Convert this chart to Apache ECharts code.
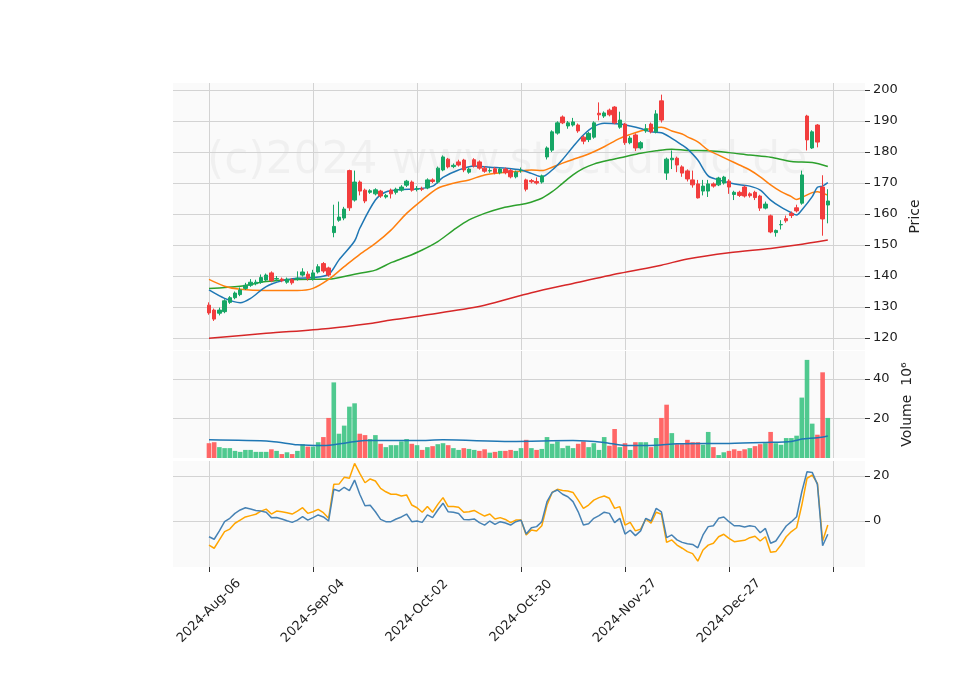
<!DOCTYPE html>
<html><head><meta charset="utf-8">
<script src="https://cdn.jsdelivr.net/npm/echarts@6/dist/echarts.min.js"></script>
<style>html,body{margin:0;padding:0;background:#fff}#c{width:960px;height:690px}</style>
</head><body><div id="c"></div>
<script>
const tickIdx = [0,20,40,60,80,100,120];
const tickLabels = ['2024-Aug-06','2024-Sep-04','2024-Oct-02','2024-Oct-30','2024-Nov-27','2024-Dec-27',''];
const opens = [130.6,129.0,128.0,128.5,131.5,133.0,134.0,136.0,137.0,137.5,138.0,138.7,141.0,139.0,139.0,138.0,138.8,139.0,140.3,140.6,
139.0,141.3,144.0,142.6,154.0,158.0,158.7,174.0,164.5,170.3,167.7,167.0,166.5,167.4,165.5,167.7,167.0,167.7,169.3,170.3,
168.0,168.1,168.4,171.0,170.3,174.2,177.7,175.3,176.8,177.4,173.5,177.5,176.8,174.8,173.9,174.6,173.3,174.5,174.0,172.0,
174.0,171.0,170.8,170.5,170.3,178.4,180.6,186.1,191.3,188.4,188.7,188.7,184.8,184.0,184.8,192.5,191.6,193.5,194.5,188.0,
189.0,183.0,185.5,181.3,186.8,189.0,186.5,196.5,173.2,177.5,178.0,175.2,173.9,171.0,169.7,167.4,167.4,169.7,169.4,170.0,
170.6,166.3,167.0,168.7,166.5,167.0,165.8,161.9,159.4,154.0,156.5,158.5,160.2,162.0,163.5,191.6,181.3,188.7,168.7,162.9];
const closes = [128.1,126.1,129.0,132.0,133.0,134.5,135.5,137.0,138.0,138.0,139.5,140.3,138.5,139.2,138.5,139.0,137.8,139.3,141.3,139.3,
141.0,143.0,141.6,140.3,156.0,159.0,161.6,162.0,170.3,167.4,164.2,167.5,167.8,165.8,166.0,166.5,168.0,168.7,170.6,167.7,
168.2,168.0,171.0,170.5,174.8,178.4,175.2,175.7,175.8,174.2,174.5,175.5,174.8,173.8,174.0,173.3,174.5,173.3,172.0,173.5,
174.1,168.0,170.4,170.0,172.3,181.3,186.5,189.4,189.4,189.4,189.7,186.8,183.5,186.0,189.4,192.0,192.6,192.0,189.4,190.3,
183.0,184.5,181.3,183.0,187.5,186.5,192.3,190.3,177.7,178.0,175.8,173.2,171.3,169.4,165.2,169.0,169.7,169.0,171.6,171.9,
168.7,167.0,166.0,165.8,165.9,165.3,161.9,163.2,154.2,154.7,156.6,157.8,159.5,161.0,172.6,183.9,186.5,183.2,158.4,164.2];
const highs = [131.5,129.5,129.8,132.5,133.5,135,136.3,137.8,139,138.8,140.5,140.8,141.5,140,139.5,139.5,139.3,141.5,142.5,141.5,
142,143.8,144.5,143,163,164,162.3,174.3,174,170.8,168.2,168,168.3,167.8,166.5,168.2,168.5,169.3,171,170.8,
169,168.8,171.5,171.5,175.3,178.9,178.1,176.3,177.5,177.8,175,178,177.3,175.5,174.8,175.2,175,175,174.5,174,
175,171.4,171.3,171.8,172.7,181.8,187,189.9,191.8,190,191,189.2,185.3,186.5,189.9,196,193.1,194,194.8,193,
189.4,185.2,186,183.5,189,189.5,193.5,198.5,178.2,180.5,178.5,175.7,174.4,174,171,171,171,170.2,172,172.3,
171.2,167.5,167.5,169.2,167,167.5,166.2,164,159.8,155,158,159.5,160.8,163,174,192,187,189,172.5,168];
const lows = [127.5,125.5,127.3,128,131,132.5,133.5,135.5,136.5,137,137.5,138.2,138,138.3,138,137.5,137.2,138.5,139.8,138.5,
138.5,140.8,141,139.8,152.5,157.5,158,161,164,166,163.5,166.5,166,165.2,165,165,166.3,167.2,168.7,167.2,
167.3,167.4,168,170,169.8,173.8,174.7,174.8,175.3,173.5,173,175,174.3,173.3,173.3,172.8,172.8,172.8,171.5,171.5,
173.3,167.3,169.9,169.5,169.8,177.6,180,185.6,189,187.5,188.2,186.2,182.5,183.2,184.3,190.2,191,191.5,189,187.5,
182.3,182.5,180.3,180.8,186.2,186,186,189.5,171,174.5,173.5,172,170.5,168.5,165,166,165.5,168.5,169,169.5,
166.5,164.5,165.5,165.3,165.3,164.5,161,161.5,153.8,152.7,155,157.2,158.7,160.5,163,180.5,181,181.5,153,157];
const volumes = [7.5,8.0,5.5,5.0,5.0,3.6,3.1,4.1,4.1,3.1,3.1,3.1,4.4,3.6,2.0,2.9,2.0,3.6,7.0,5.8,
5.8,8.0,10.6,20.3,38.3,12.3,16.4,26.0,27.7,12.3,11.6,9.6,11.6,7.2,5.5,6.5,6.5,8.4,9.6,7.2,
6.5,4.1,5.5,6.0,7.0,7.5,6.5,5.0,4.1,5.0,4.6,4.1,3.6,4.4,2.7,3.1,3.6,3.6,4.1,3.6,
5.0,9.2,5.0,4.1,4.6,10.6,7.2,8.4,5.0,6.2,5.0,7.2,8.4,5.5,7.5,4.1,10.6,6.2,14.7,5.5,
7.5,4.1,8.0,8.0,8.0,5.5,10.1,20.3,27.0,12.6,7.0,7.0,9.2,8.0,8.0,6.7,13.2,5.5,1.5,2.9,
3.6,4.4,3.6,4.4,5.0,6.0,7.0,7.5,13.2,7.5,6.7,10.1,10.1,11.3,30.6,49.7,17.4,11.8,43.4,20.3];
const maBlueIdx = [0,3,6,8,11,14,17,20,23,25,28,29,32,34,37,40,43,45,48,51,54,57,60,62,64,66,68,70,72,74,76,79,81,83,85,87,89,91,92,94,96,98,100,102,104,106,108,110,112,113,114,116,117,118,119];
const maBlueVal = [135.5,132.8,131.4,132.8,136.6,138.5,139.3,139.5,140.5,145.2,151.3,155.4,164.5,167.1,167.9,168.1,169.0,171.8,174.2,175.5,175.1,174.8,174.2,173.1,172.0,174.2,177.6,181.7,185.5,188.2,189.3,189.0,188.4,187.6,186.5,186.2,184.4,182.2,181.0,177.4,172.3,171.0,170.1,169.4,169.0,167.7,164.5,162.2,160.4,159.7,161.3,165.6,168.6,169.0,170.1];
const maOrangeIdx = [0,3,6,11,17,20,23,26,29,32,35,38,41,44,47,50,53,56,59,62,64,66,68,70,72,74,76,79,81,83,85,87,89,91,92,94,96,98,100,102,104,106,108,110,112,113,114,116,117,118,119];
const maOrangeVal = [138.9,136.7,135.7,135.3,135.3,136.0,138.9,143.0,147.0,150.5,154.8,160.2,164.5,168.3,169.9,171.0,172.6,173.3,173.7,174.2,174.0,175.1,176.4,177.6,178.7,180.1,181.7,184.4,185.7,186.8,187.6,188.0,186.8,185.8,184.9,183.3,180.6,179.0,177.4,175.8,174.2,172.0,169.4,167.2,165.6,164.7,165.3,166.9,167.2,166.7,166.1];
const maGreenIdx = [0,6,11,17,23,28,32,35,38,41,44,47,50,53,56,59,61,64,66,68,70,72,74,77,80,83,86,89,92,96,100,104,108,112,116,119];
const maGreenVal = [136.0,136.7,138.2,138.9,139.0,140.6,141.9,144.3,146.2,148.4,151.1,154.8,158.1,160.2,161.8,162.8,163.4,165.1,167.2,169.9,172.6,174.7,176.1,177.4,178.5,179.6,180.4,180.9,180.5,180.4,179.8,179.0,178.3,176.9,176.6,175.3];
const maRedIdx = [0,11,23,31,35,44,53,62,70,79,87,92,100,108,113,119];
const maRedVal = [119.9,121.5,123.1,124.7,125.8,128.0,130.6,134.6,137.6,140.9,143.5,145.5,147.5,148.9,150.0,151.6];
const volMaIdx = [0,12,17,22,26,30,40,45,58,70,76,80,86,90,100,107,112,114,117,119];
const volMaVal = [9.2,8.4,6.7,6.3,7.5,8.9,8.9,9.2,8.4,8.9,7.9,6.3,6.5,7.2,7.4,7.9,8.4,9.6,10.3,11.2];
const oscBlue = [-7.0,-8.1,-4.4,-0.3,1.2,3.4,4.9,5.9,5.3,4.7,4.4,3.9,1.5,1.6,0.9,0.1,-0.6,0.4,1.9,0.4,
1.5,2.7,1.8,0,14.1,13.3,15.0,13.5,18.2,11.9,6.8,7.0,4.1,0.7,-0.3,-0.3,0.9,1.8,3.1,-0.3,
0,-0.6,2.7,1.5,4.9,7.9,4.1,3.9,3.3,0.7,0.6,0.9,-0.7,-1.8,0,-1.5,-0.3,-0.9,-1.8,
-0.3,0.4,-5.8,-3.0,-2.5,-0.3,8.6,12.7,13.8,11.9,10.8,8.6,4.1,-1.8,-1.2,1.2,2.4,3.9,3.4,-0.7,
1.2,-5.8,-4.1,-6.5,-4.4,1.2,0,5.6,4.1,-7.4,-6.2,-8.4,-9.5,-10.1,-10.4,-11.9,-6.2,-2.5,-2.1,1.2,
1.8,-0.3,-2.1,-2.1,-2.7,-2.1,-2.5,-5.2,-3.3,-9.9,-8.9,-5.5,-2.2,-0.3,1.9,13.0,21.9,21.6,16.3,-11.0,-5.9];
const oscOrange = [-10.7,-12.1,-8.4,-4.7,-3.6,-1.0,0.4,1.8,2.4,3.0,4.4,5.3,3.1,4.4,4.1,3.7,3.1,4.4,5.9,3.4,
4.1,5.2,3.7,1.2,16.3,16.4,19.4,19.0,25.6,21.2,17.0,18.7,17.8,14.5,13.0,11.9,11.9,11.1,11.6,7.1,
5.9,3.9,6.4,3.9,7.4,10.4,6.4,6.4,6.1,3.9,4.1,4.7,3.4,2.2,3.1,0.9,1.5,0.7,-0.7,
0.4,0.4,-6.2,-4.0,-4.4,-2.1,7.1,12.7,14.1,13.6,13.3,12.7,9.3,5.6,7.1,9.3,10.4,11.1,10.1,5.6,
6.4,-1.8,-0.6,-4.4,-3.6,0.9,-1.0,3.9,3.0,-9.5,-8.4,-10.7,-12.1,-13.6,-14.5,-17.8,-12.9,-10.7,-9.9,-7.0,
-5.9,-7.7,-9.2,-8.9,-8.6,-7.4,-6.8,-8.9,-7.0,-13.9,-13.6,-10.7,-7.0,-4.7,-3.0,7.1,19.0,20.4,16.7,-8.9,-1.8];

const UP='#16a665', DOWN='#f23d3d', VUP='#46c689', VDOWN='#ff5f5f';
const candles = opens.map((o,i)=>[i,o,closes[i],lows[i],highs[i]]);
const vols = volumes.map((v,i)=>{const prev = i>0?closes[i-1]:opens[0];
  return {value:[i,v], itemStyle:{color: closes[i]>=prev?VUP:VDOWN, opacity:0.95}};});
const pairs=(a,b)=>a.map((x,i)=>[x,b[i]]);
const grids=[{left:173,top:83,width:692,height:267},{left:173,top:351,width:692,height:107},{left:173,top:461,width:692,height:106}];
const gl={show:true,lineStyle:{color:'#d3d3d3',width:1}};
function xa(idx,labels){return {type:'value',gridIndex:idx,min:-6.92,max:126.15,position:'bottom',
  axisLine:{show:false,onZero:false},
  axisTick:{show:labels,customValues:tickIdx,length:5,lineStyle:{color:'#333'}},
  axisLabel:{show:labels,customValues:tickIdx,rotate:45,align:'center',verticalAlign:'middle',fontSize:13,color:'#222',fontFamily:'DejaVu Sans',margin:44,
    formatter:v=>tickLabels[tickIdx.indexOf(Math.round(v))]||''},
  splitLine:gl};}
function ya(idx,min,max,vals,name,gap){return {type:'value',gridIndex:idx,position:'right',min:min,max:max,
  axisLine:{show:false,onZero:false},axisTick:{show:true,customValues:vals,length:5,lineStyle:{color:'#333'}},
  axisLabel:{customValues:vals,fontSize:13,color:'#222',fontFamily:'DejaVu Sans',margin:8},
  splitLine:gl,name:name,nameLocation:'middle',nameRotate:90,nameGap:gap,
  nameTextStyle:{fontSize:14,color:'#222',fontFamily:'DejaVu Sans'}};}
const lineS=(x,y,d,color,w)=>({type:'line',xAxisIndex:x,yAxisIndex:y,data:d,showSymbol:false,smooth:0.3,
  lineStyle:{color:color,width:w||1.5},itemStyle:{color:color},z:3});
const option={animation:false,backgroundColor:'#fff',
  graphic:[{type:'text',left:207,top:140,z:0,style:{text:'(c)2024 www.stockdroid.de',fontSize:44,fill:'rgba(0,0,0,0.04)',fontFamily:'DejaVu Sans'}}],
  grid:grids.map(g=>Object.assign({show:true,backgroundColor:'#fafafa',borderWidth:0},g)),
  xAxis:[xa(0,false),xa(1,false),xa(2,true)],
  yAxis:[ya(0,116.13,202.26,[120,130,140,150,160,170,180,190,200],'Price',40),
         ya(1,0,54.2,[20,40],'Volume  10\u2076',30),
         ya(2,-20.44,26.67,[0,20],'',30)],
  series:[
    {type:'candlestick',xAxisIndex:0,yAxisIndex:0,data:candles,encode:{x:0,y:[1,2,3,4]},barWidth:4,
     itemStyle:{color:UP,color0:DOWN,borderColor:UP,borderColor0:DOWN,borderWidth:1},z:4},
    lineS(0,0,pairs(maRedIdx,maRedVal),'#d62728'),
    lineS(0,0,pairs(maGreenIdx,maGreenVal),'#2ca02c'),
    lineS(0,0,pairs(maOrangeIdx,maOrangeVal),'#ff7f0e'),
    lineS(0,0,pairs(maBlueIdx,maBlueVal),'#1f77b4'),
    {type:'bar',xAxisIndex:1,yAxisIndex:1,data:vols,barWidth:4.6,z:2},
    lineS(1,1,pairs(volMaIdx,volMaVal),'#1f77b4'),
    Object.assign(lineS(2,2,oscOrange.map((v,i)=>[i,v]),'#ffa500'),{smooth:false}),
    Object.assign(lineS(2,2,oscBlue.map((v,i)=>[i,v]),'#4682b4'),{smooth:false})
  ]};
const ch=echarts.init(document.getElementById('c'),null,{renderer:'canvas'});
ch.setOption(option);
</script></body></html>
